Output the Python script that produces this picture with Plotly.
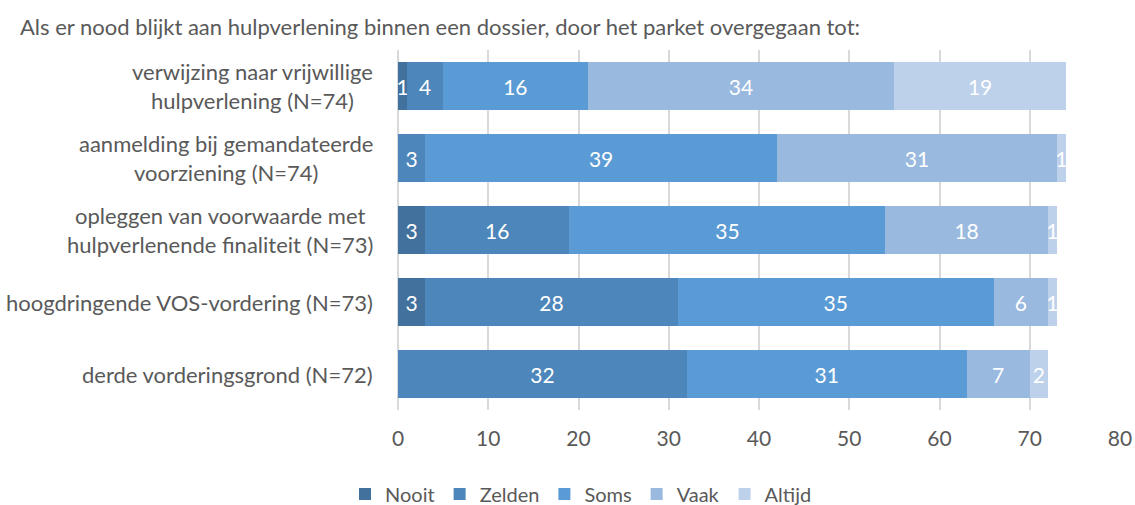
import plotly.graph_objects as go

categories = [
    "verwijzing naar vrijwillige<br>hulpverlening (N=74)",
    "aanmelding bij gemandateerde<br>voorziening (N=74)",
    "opleggen van voorwaarde met<br>hulpverlenende finaliteit (N=73)",
    "hoogdringende VOS-vordering (N=73)",
    "derde vorderingsgrond (N=72)",
]
series_names = ["Nooit", "Zelden", "Soms", "Vaak", "Altijd"]
nooit = [1, 0, 3, 3, 0]
zelden = [4, 3, 16, 28, 32]
soms = [16, 39, 35, 35, 31]
vaak = [34, 31, 18, 6, 7]
altijd = [19, 1, 1, 1, 2]
values = [nooit, zelden, soms, vaak, altijd]
colors = ["#43719E", "#4D86BA", "#5B9BD5", "#9AB9DF", "#BDD1EB"]
xticks = [0, 10, 20, 30, 40, 50, 60, 70, 80]

FONT = "Lato"
W, H = 1135, 505
L, R = 398, 15
T, B = 50, 95

fig = go.Figure()
for name, vals, col in zip(series_names, values, colors):
    fig.add_trace(go.Bar(
        y=categories, x=vals, name=name, orientation="h",
        marker=dict(color=col, line=dict(width=0)),
        text=[str(v) if v else "" for v in vals],
        textposition="inside", insidetextanchor="middle",
        constraintext="none",
        textfont=dict(color="white", size=21, family=FONT),
        hoverinfo="x+name",
    ))

for c in categories:
    fig.add_annotation(
        x=-0.032, xref="paper", y=c, yref="y", text=c, showarrow=False,
        xanchor="right", yanchor="middle", align="center",
        font=dict(size=22, color="#595959", family=FONT),
    )

fig.update_layout(
    width=W, height=H,
    margin=dict(l=L, r=R, t=T, b=B, autoexpand=False),
    barmode="stack", bargap=0.32,
    plot_bgcolor="white", paper_bgcolor="white",
    font=dict(family=FONT, color="#595959"),
    title=dict(
        text="Als er nood blijkt aan hulpverlening binnen een dossier, door het parket overgegaan tot:",
        x=20 / W, xref="container", xanchor="left",
        y=1 - 27 / H, yref="container", yanchor="middle",
        font=dict(size=22, color="#595959", family=FONT),
    ),
    xaxis=dict(
        range=[0, 80], tickvals=xticks, showgrid=True, gridcolor="#D9D9D9",
        gridwidth=1.5, zeroline=True, zerolinecolor="#D9D9D9", zerolinewidth=1.5,
        tickfont=dict(size=21, color="#595959"), ticks="", showline=False,
        automargin=False, ticklabelstandoff=14,
    ),
    yaxis=dict(
        categoryorder="array", categoryarray=categories[::-1],
        showticklabels=False, showgrid=False, ticks="", showline=False,
        automargin=False,
    ),
    legend=dict(
        orientation="h", xref="container", yref="container",
        x=581 / W, xanchor="center",
        y=1 - 494 / H, yanchor="middle", font=dict(size=20, color="#595959"),
        traceorder="normal", itemwidth=30,
    ),
)

fig.write_html(
    "out.html",
    config={"displayModeBar": False},
    post_script="document.body.style.margin='0';document.body.style.overflow='hidden';",
)
